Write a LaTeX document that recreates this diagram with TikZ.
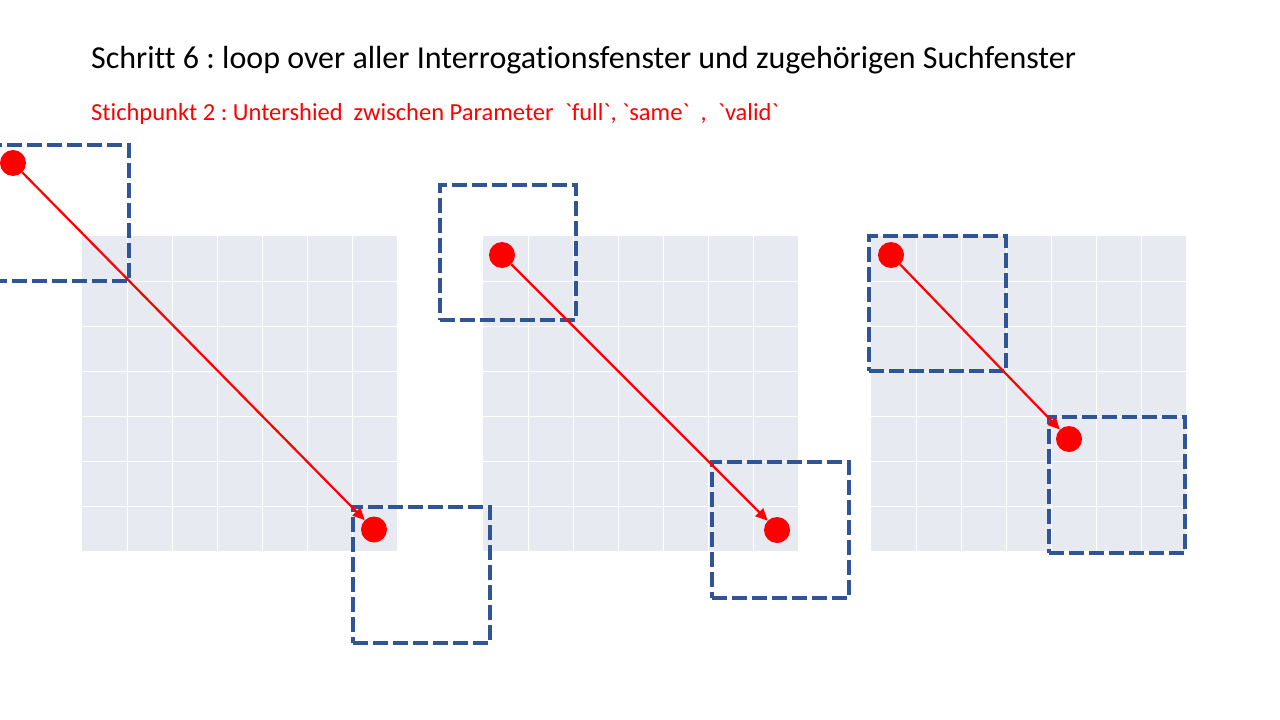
\documentclass[tikz,border=0pt]{standalone}
\usepackage{fontspec}
\setmainfont{Carlito}[Ligatures=NoCommon]
\usetikzlibrary{arrows.meta}
\definecolor{gridbg}{HTML}{E8EAF2}
\definecolor{boxblue}{HTML}{2F5597}
\newcommand{\bq}{\textasciigrave}
\frenchspacing
\tikzset{
  winbox/.style={draw=boxblue, line width=4pt, dash pattern=on 15pt off 5pt, rectangle, inner sep=0pt, fill=none},
  dot/.style={circle, fill=red, draw=none, minimum size=26pt, inner sep=0pt},
  conn/.style={draw=red, line width=2.2pt, -{Triangle[length=12pt,width=11pt]}},
  gridline/.style={draw=white, line width=1pt},
  titletext/.style={anchor=base west, inner sep=0pt, font=\fontsize{32}{38}\selectfont},
  subtext/.style={anchor=base west, inner sep=0pt, text=red, font=\fontsize{24.5}{29}\selectfont}
}
\begin{document}
\begin{tikzpicture}[x=1pt,y=-1pt]
\useasboundingbox (0,0) rectangle (1280,720);
\fill[white] (0,0) rectangle (1280,720);
% grids
\foreach \gx in {82,483,871} {
  \fill[gridbg] (\gx,236) rectangle ++(315,315);
  \foreach \i in {1,...,6} {
    \draw[gridline] (\gx+\i*45,236) -- ++(0,315);
    \draw[gridline] (\gx,236+\i*45) -- ++(315,0);
  }
}
% text
\node[titletext] (title) at (91,68) {Schritt 6 : loop over aller Interrogationsfenster und zugehörigen Suchfenster};
\node[subtext] (sub) at (91,120) {Stichpunkt 2 : Untershied\ \ zwischen Parameter\ \ \bq full\bq,\ \bq same\bq\ \ ,\ \ \bq valid\bq};
% windows
\node[winbox, minimum width=137pt, minimum height=136pt] (w1a) at (60.5,213) {};
\node[winbox, minimum width=137pt, minimum height=136pt] (w1b) at (421.5,575) {};
\node[winbox, minimum width=136pt, minimum height=135pt] (w2a) at (508,252.5) {};
\node[winbox, minimum width=137pt, minimum height=136pt] (w2b) at (780.5,530) {};
\node[winbox, minimum width=137pt, minimum height=135pt] (w3a) at (937.5,303) {};
\node[winbox, minimum width=136pt, minimum height=136pt] (w3b) at (1116.5,485) {};
% dots
\node[dot] (d1a) at (13,163) {};
\node[dot] (d1b) at (374,529.5) {};
\node[dot] (d2a) at (502,255) {};
\node[dot] (d2b) at (777,530) {};
\node[dot] (d3a) at (891,255) {};
\node[dot] (d3b) at (1069,439) {};
% arrows
\draw[conn] (d1a) -- (d1b);
\draw[conn] (d2a) -- (d2b);
\draw[conn] (d3a) -- (d3b);
\end{tikzpicture}
\end{document}
